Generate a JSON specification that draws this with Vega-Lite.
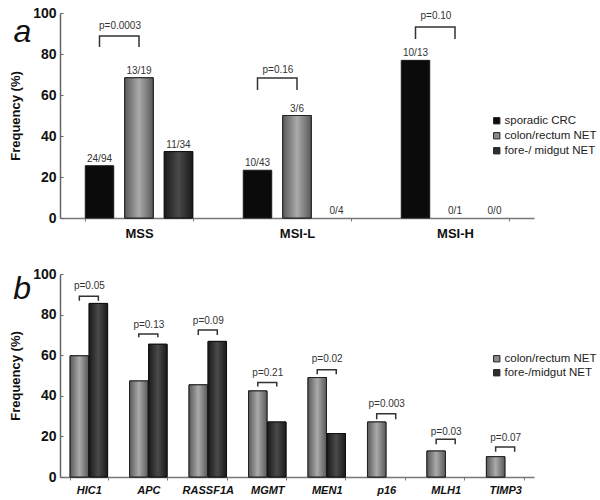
{
  "$schema": "https://vega.github.io/schema/vega-lite/v6.json",
  "padding": {"top": 6, "left": 9, "right": 2, "bottom": 2},
  "background": "white",
  "spacing": 27,
  "config": {
    "font": "Liberation Sans",
    "view": {"stroke": null},
    "axis": {"grid": false}
  },
  "datasets": {
    "msi": [
      {"group": "MSS", "series": "sporadic CRC", "freq": 25.5, "frac": "24/94"},
      {"group": "MSS", "series": "colon/rectum NET", "freq": 68.4, "frac": "13/19"},
      {"group": "MSS", "series": "fore-/ midgut NET", "freq": 32.4, "frac": "11/34"},
      {"group": "MSI-L", "series": "sporadic CRC", "freq": 23.3, "frac": "10/43"},
      {"group": "MSI-L", "series": "colon/rectum NET", "freq": 50.0, "frac": "3/6"},
      {"group": "MSI-L", "series": "fore-/ midgut NET", "freq": 0, "frac": "0/4"},
      {"group": "MSI-H", "series": "sporadic CRC", "freq": 76.9, "frac": "10/13"},
      {"group": "MSI-H", "series": "colon/rectum NET", "freq": 0, "frac": "0/1"},
      {"group": "MSI-H", "series": "fore-/ midgut NET", "freq": 0, "frac": "0/0"}
    ],
    "msiBrackets": [
      {"id": "MSS", "group": "MSS", "series": "sporadic CRC", "val": 83.4, "ord": 1},
      {"id": "MSS", "group": "MSS", "series": "sporadic CRC", "val": 88.8, "ord": 2},
      {"id": "MSS", "group": "MSS", "series": "colon/rectum NET", "val": 88.8, "ord": 3},
      {"id": "MSS", "group": "MSS", "series": "colon/rectum NET", "val": 83.4, "ord": 4},
      {"id": "MSI-L", "group": "MSI-L", "series": "sporadic CRC", "val": 62.4, "ord": 1},
      {"id": "MSI-L", "group": "MSI-L", "series": "sporadic CRC", "val": 68.3, "ord": 2},
      {"id": "MSI-L", "group": "MSI-L", "series": "colon/rectum NET", "val": 68.3, "ord": 3},
      {"id": "MSI-L", "group": "MSI-L", "series": "colon/rectum NET", "val": 62.4, "ord": 4},
      {"id": "MSI-H", "group": "MSI-H", "series": "sporadic CRC", "val": 87.3, "ord": 1},
      {"id": "MSI-H", "group": "MSI-H", "series": "sporadic CRC", "val": 93.2, "ord": 2},
      {"id": "MSI-H", "group": "MSI-H", "series": "colon/rectum NET", "val": 93.2, "ord": 3},
      {"id": "MSI-H", "group": "MSI-H", "series": "colon/rectum NET", "val": 87.3, "ord": 4}
    ],
    "msiP": [
      {"group": "MSS", "series": "colon/rectum NET", "val": 93.6, "p": "p=0.0003"},
      {"group": "MSI-L", "series": "colon/rectum NET", "val": 72.0, "p": "p=0.16"},
      {"group": "MSI-H", "series": "colon/rectum NET", "val": 98.5, "p": "p=0.10"}
    ],
    "genes": [
      {"gene": "HIC1", "series": "colon/rectum NET", "freq": 59.7},
      {"gene": "HIC1", "series": "fore-/midgut NET", "freq": 85.5},
      {"gene": "APC", "series": "colon/rectum NET", "freq": 47.3},
      {"gene": "APC", "series": "fore-/midgut NET", "freq": 65.4},
      {"gene": "RASSF1A", "series": "colon/rectum NET", "freq": 45.4},
      {"gene": "RASSF1A", "series": "fore-/midgut NET", "freq": 66.8},
      {"gene": "MGMT", "series": "colon/rectum NET", "freq": 42.4},
      {"gene": "MGMT", "series": "fore-/midgut NET", "freq": 27.1},
      {"gene": "MEN1", "series": "colon/rectum NET", "freq": 49.0},
      {"gene": "MEN1", "series": "fore-/midgut NET", "freq": 21.4},
      {"gene": "p16", "series": "colon/rectum NET", "freq": 27.1},
      {"gene": "p16", "series": "fore-/midgut NET", "freq": 0},
      {"gene": "MLH1", "series": "colon/rectum NET", "freq": 12.8},
      {"gene": "MLH1", "series": "fore-/midgut NET", "freq": 0},
      {"gene": "TIMP3", "series": "colon/rectum NET", "freq": 10.0},
      {"gene": "TIMP3", "series": "fore-/midgut NET", "freq": 0}
    ],
    "geneBrackets": [
      {"gene": "HIC1", "series": "colon/rectum NET", "val": 86.8, "ord": 1},
      {"gene": "HIC1", "series": "colon/rectum NET", "val": 89.0, "ord": 2},
      {"gene": "HIC1", "series": "fore-/midgut NET", "val": 89.0, "ord": 3},
      {"gene": "HIC1", "series": "fore-/midgut NET", "val": 86.8, "ord": 4},
      {"gene": "APC", "series": "colon/rectum NET", "val": 68.9, "ord": 1},
      {"gene": "APC", "series": "colon/rectum NET", "val": 70.4, "ord": 2},
      {"gene": "APC", "series": "fore-/midgut NET", "val": 70.4, "ord": 3},
      {"gene": "APC", "series": "fore-/midgut NET", "val": 68.9, "ord": 4},
      {"gene": "RASSF1A", "series": "colon/rectum NET", "val": 70.0, "ord": 1},
      {"gene": "RASSF1A", "series": "colon/rectum NET", "val": 72.4, "ord": 2},
      {"gene": "RASSF1A", "series": "fore-/midgut NET", "val": 72.4, "ord": 3},
      {"gene": "RASSF1A", "series": "fore-/midgut NET", "val": 70.0, "ord": 4},
      {"gene": "MGMT", "series": "colon/rectum NET", "val": 44.6, "ord": 1},
      {"gene": "MGMT", "series": "colon/rectum NET", "val": 46.5, "ord": 2},
      {"gene": "MGMT", "series": "fore-/midgut NET", "val": 46.5, "ord": 3},
      {"gene": "MGMT", "series": "fore-/midgut NET", "val": 44.6, "ord": 4},
      {"gene": "MEN1", "series": "colon/rectum NET", "val": 50.6, "ord": 1},
      {"gene": "MEN1", "series": "colon/rectum NET", "val": 52.8, "ord": 2},
      {"gene": "MEN1", "series": "fore-/midgut NET", "val": 52.8, "ord": 3},
      {"gene": "MEN1", "series": "fore-/midgut NET", "val": 50.6, "ord": 4},
      {"gene": "p16", "series": "colon/rectum NET", "val": 28.4, "ord": 1},
      {"gene": "p16", "series": "colon/rectum NET", "val": 31.2, "ord": 2},
      {"gene": "p16", "series": "fore-/midgut NET", "val": 31.2, "ord": 3},
      {"gene": "p16", "series": "fore-/midgut NET", "val": 28.4, "ord": 4},
      {"gene": "MLH1", "series": "colon/rectum NET", "val": 16.1, "ord": 1},
      {"gene": "MLH1", "series": "colon/rectum NET", "val": 18.6, "ord": 2},
      {"gene": "MLH1", "series": "fore-/midgut NET", "val": 18.6, "ord": 3},
      {"gene": "MLH1", "series": "fore-/midgut NET", "val": 16.1, "ord": 4},
      {"gene": "TIMP3", "series": "colon/rectum NET", "val": 12.5, "ord": 1},
      {"gene": "TIMP3", "series": "colon/rectum NET", "val": 14.8, "ord": 2},
      {"gene": "TIMP3", "series": "fore-/midgut NET", "val": 14.8, "ord": 3},
      {"gene": "TIMP3", "series": "fore-/midgut NET", "val": 12.5, "ord": 4}
    ],
    "geneP": [
      {"gene": "HIC1", "series": "fore-/midgut NET", "val": 94.0, "p": "p=0.05"},
      {"gene": "APC", "series": "fore-/midgut NET", "val": 74.8, "p": "p=0.13"},
      {"gene": "RASSF1A", "series": "fore-/midgut NET", "val": 77.0, "p": "p=0.09"},
      {"gene": "MGMT", "series": "fore-/midgut NET", "val": 51.0, "p": "p=0.21"},
      {"gene": "MEN1", "series": "fore-/midgut NET", "val": 58.0, "p": "p=0.02"},
      {"gene": "p16", "series": "fore-/midgut NET", "val": 35.8, "p": "p=0.003"},
      {"gene": "MLH1", "series": "fore-/midgut NET", "val": 22.2, "p": "p=0.03"},
      {"gene": "TIMP3", "series": "fore-/midgut NET", "val": 19.0, "p": "p=0.07"}
    ]
  },
  "vconcat": [
    {
      "width": 474,
      "height": 205,
      "encoding": {
        "x": {"field": "group", "type": "nominal", "sort": ["MSS", "MSI-L", "MSI-H"],
              "scale": {"paddingInner": 0.32, "paddingOuter": 0.16},
              "axis": {"title": null, "labelAngle": 0, "labelFontSize": 13, "labelFontWeight": "bold", "labelColor": "#111", "labelPadding": 6,
                       "domainColor": "#777", "domainWidth": 1.5, "tickBand": "extent", "tickSize": 3, "tickColor": "#777"}}
      },
      "layer": [
        {
          "data": {"name": "msi"},
          "transform": [{"filter": "datum.freq > 0"}],
          "mark": {"type": "bar", "stroke": "#1a1a1a", "strokeWidth": 1},
          "encoding": {
            "xOffset": {"field": "series", "type": "nominal",
                        "scale": {"domain": ["sporadic CRC", "colon/rectum NET", "fore-/ midgut NET"], "paddingInner": 0.28, "paddingOuter": 0}},
            "y": {"field": "freq", "type": "quantitative", "scale": {"domain": [0, 100], "nice": false},
                  "axis": {"title": "Frequency (%)", "titleFontSize": 13, "titleFontWeight": "bold", "titleColor": "#111", "titlePadding": 10,
                           "values": [0, 10, 20, 30, 40, 50, 60, 70, 80, 90, 100],
                           "labelExpr": "datum.value % 20 == 0 ? datum.label : ''",
                           "labelFontSize": 14, "labelFontWeight": "bold", "labelColor": "#111",
                           "tickSize": -3, "labelPadding": 7, "tickColor": "#666", "domainColor": "#666", "domainWidth": 1.5}},
            "color": {"field": "series", "type": "nominal", "sort": ["sporadic CRC", "colon/rectum NET", "fore-/ midgut NET"],
                      "scale": {"domain": ["sporadic CRC", "colon/rectum NET", "fore-/ midgut NET"], "range": ["#0b0b0b", "#8c8c8c", "#2e2e2e"]},
                      "legend": {"title": null, "orient": "none", "legendX": 431, "legendY": 102, "symbolType": "square", "symbolSize": 40,
                                 "symbolStrokeColor": "#222", "symbolStrokeWidth": 1, "labelFontSize": 11.5, "labelColor": "#222", "labelOffset": 2, "rowPadding": 2}}
          }
        },
        {
          "data": {"name": "msi"},
          "transform": [{"filter": "datum.series == 'colon/rectum NET' && datum.freq > 0"}],
          "mark": {"type": "bar", "stroke": "#222", "strokeWidth": 1,
                   "color": {"gradient": "linear", "x1": 0, "x2": 1, "y1": 0, "y2": 0,
                             "stops": [{"offset": 0, "color": "#5a5a5a"}, {"offset": 0.5, "color": "#aaaaaa"}, {"offset": 1, "color": "#5a5a5a"}]}},
          "encoding": {"xOffset": {"field": "series", "type": "nominal"}, "y": {"field": "freq", "type": "quantitative"}}
        },
        {
          "data": {"name": "msi"},
          "transform": [{"filter": "datum.series == 'fore-/ midgut NET' && datum.freq > 0"}],
          "mark": {"type": "bar", "stroke": "#111", "strokeWidth": 1,
                   "color": {"gradient": "linear", "x1": 0, "x2": 1, "y1": 0, "y2": 0,
                             "stops": [{"offset": 0, "color": "#1a1a1a"}, {"offset": 0.5, "color": "#4a4a4a"}, {"offset": 1, "color": "#1a1a1a"}]}},
          "encoding": {"xOffset": {"field": "series", "type": "nominal"}, "y": {"field": "freq", "type": "quantitative"}}
        },
        {
          "data": {"name": "msi"},
          "mark": {"type": "text", "baseline": "bottom", "dy": -2, "fontSize": 10, "color": "#333"},
          "encoding": {"xOffset": {"field": "series", "type": "nominal"}, "y": {"field": "freq", "type": "quantitative"}, "text": {"field": "frac"}}
        },
        {
          "data": {"name": "msiBrackets"},
          "mark": {"type": "line", "color": "#333", "strokeWidth": 1.5},
          "encoding": {
            "xOffset": {"field": "series", "type": "nominal"},
            "y": {"field": "val", "type": "quantitative"},
            "detail": {"field": "id"},
            "order": {"field": "ord"}
          }
        },
        {
          "data": {"name": "msiP"},
          "mark": {"type": "text", "baseline": "middle", "dx": -19, "fontSize": 10, "color": "#333"},
          "encoding": {"xOffset": {"field": "series", "type": "nominal"}, "y": {"field": "val", "type": "quantitative"}, "text": {"field": "p"}}
        },
        {
          "data": {"values": [{"panel": "a", "group": "MSS", "series": "sporadic CRC"}]},
          "mark": {"type": "text", "align": "left", "baseline": "alphabetic", "fontSize": 32, "fontStyle": "italic", "color": "#111", "dx": -86},
          "encoding": {"xOffset": {"field": "series", "type": "nominal"}, "y": {"datum": 85.9}, "text": {"field": "panel"}}
        }
      ]
    },
    {
      "width": 474,
      "height": 203,
      "encoding": {
        "x": {"field": "gene", "type": "nominal", "sort": ["HIC1", "APC", "RASSF1A", "MGMT", "MEN1", "p16", "MLH1", "TIMP3"],
              "scale": {"paddingInner": 0.37, "paddingOuter": 0.17},
              "axis": {"title": null, "labelAngle": 0, "labelFontSize": 11, "labelFontWeight": "bold", "labelFontStyle": "italic", "labelColor": "#111", "labelPadding": 4,
                       "domainColor": "#777", "domainWidth": 1.5, "tickBand": "extent", "tickSize": 3, "tickColor": "#777"}}
      },
      "layer": [
        {
          "data": {"name": "genes"},
          "transform": [{"filter": "datum.freq > 0"}],
          "mark": {"type": "bar", "stroke": "#1a1a1a", "strokeWidth": 1},
          "encoding": {
            "xOffset": {"field": "series", "type": "nominal",
                        "scale": {"domain": ["colon/rectum NET", "fore-/midgut NET"], "paddingInner": 0.03, "paddingOuter": 0}},
            "y": {"field": "freq", "type": "quantitative", "scale": {"domain": [0, 100], "nice": false},
                  "axis": {"title": "Frequency (%)", "titleFontSize": 13, "titleFontWeight": "bold", "titleColor": "#111", "titlePadding": 10,
                           "values": [0, 10, 20, 30, 40, 50, 60, 70, 80, 90, 100],
                           "labelExpr": "datum.value % 20 == 0 ? datum.label : ''",
                           "labelFontSize": 14, "labelFontWeight": "bold", "labelColor": "#111",
                           "tickSize": -3, "labelPadding": 7, "tickColor": "#666", "domainColor": "#666", "domainWidth": 1.5}},
            "color": {"field": "series", "type": "nominal", "sort": ["colon/rectum NET", "fore-/midgut NET"],
                      "scale": {"domain": ["colon/rectum NET", "fore-/midgut NET"], "range": ["#8c8c8c", "#2e2e2e"]},
                      "legend": {"title": null, "orient": "none", "legendX": 431, "legendY": 79, "symbolType": "square", "symbolSize": 40,
                                 "symbolStrokeColor": "#222", "symbolStrokeWidth": 1, "labelFontSize": 11.5, "labelColor": "#222", "labelOffset": 2, "rowPadding": 1}}
          }
        },
        {
          "data": {"name": "genes"},
          "transform": [{"filter": "datum.series == 'colon/rectum NET' && datum.freq > 0"}],
          "mark": {"type": "bar", "stroke": "#222", "strokeWidth": 1,
                   "color": {"gradient": "linear", "x1": 0, "x2": 1, "y1": 0, "y2": 0,
                             "stops": [{"offset": 0, "color": "#5a5a5a"}, {"offset": 0.5, "color": "#aaaaaa"}, {"offset": 1, "color": "#5a5a5a"}]}},
          "encoding": {"xOffset": {"field": "series", "type": "nominal"}, "y": {"field": "freq", "type": "quantitative"}}
        },
        {
          "data": {"name": "genes"},
          "transform": [{"filter": "datum.series == 'fore-/midgut NET' && datum.freq > 0"}],
          "mark": {"type": "bar", "stroke": "#111", "strokeWidth": 1,
                   "color": {"gradient": "linear", "x1": 0, "x2": 1, "y1": 0, "y2": 0,
                             "stops": [{"offset": 0, "color": "#1a1a1a"}, {"offset": 0.5, "color": "#4a4a4a"}, {"offset": 1, "color": "#1a1a1a"}]}},
          "encoding": {"xOffset": {"field": "series", "type": "nominal"}, "y": {"field": "freq", "type": "quantitative"}}
        },
        {
          "data": {"name": "geneBrackets"},
          "mark": {"type": "line", "color": "#333", "strokeWidth": 1.5},
          "encoding": {
            "xOffset": {"field": "series", "type": "nominal"},
            "y": {"field": "val", "type": "quantitative"},
            "detail": {"field": "gene"},
            "order": {"field": "ord"}
          }
        },
        {
          "data": {"name": "geneP"},
          "mark": {"type": "text", "baseline": "middle", "dx": -9, "fontSize": 10, "color": "#333"},
          "encoding": {"xOffset": {"field": "series", "type": "nominal"}, "y": {"field": "val", "type": "quantitative"}, "text": {"field": "p"}}
        },
        {
          "data": {"values": [{"panel": "b", "gene": "HIC1", "series": "colon/rectum NET"}]},
          "mark": {"type": "text", "align": "left", "baseline": "alphabetic", "fontSize": 32, "fontStyle": "italic", "color": "#111", "dx": -66},
          "encoding": {"xOffset": {"field": "series", "type": "nominal"}, "y": {"datum": 87.7}, "text": {"field": "panel"}}
        }
      ]
    }
  ],
  "resolve": {"scale": {"color": "independent", "x": "independent", "xOffset": "independent", "y": "independent"}}
}
